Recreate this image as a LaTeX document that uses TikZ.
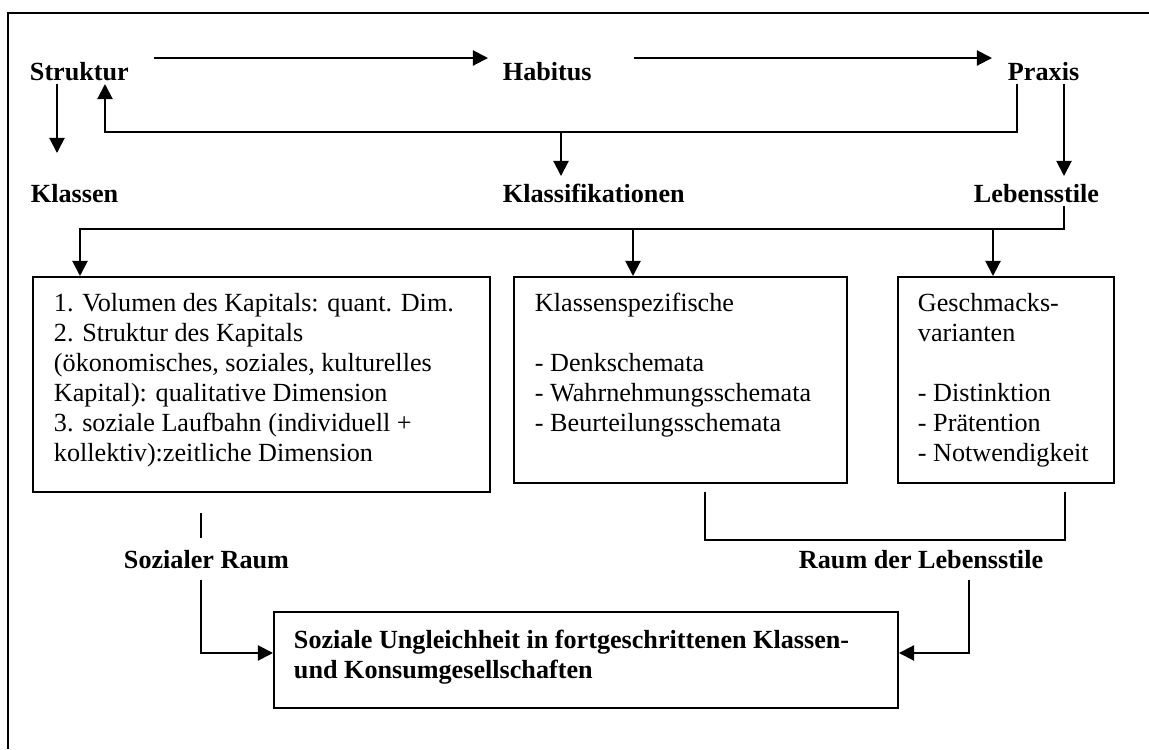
\documentclass[tikz,border=0pt]{standalone}
\usepackage{fontspec}
\setmainfont{Liberation Serif}
\usetikzlibrary{arrows.meta}

\begin{document}
\begin{tikzpicture}[x=0.4587pt, y=-0.4587pt, line width=0.9pt,
    lbl/.style={font=\bfseries\fontsize{12}{13.76}\selectfont, inner sep=0pt,
      anchor=base west, text height=8.26pt, text depth=2.3pt},
    box/.style 2 args={draw, anchor=north west, inner sep=0pt,
      minimum width=#1*0.4587pt, minimum height=#2*0.4587pt},
    boxtext/.style={anchor=north west, inner sep=0pt, align=left,
      font=\fontsize{12}{13.76}\selectfont},
    arr/.style={-{Triangle[length=6.9pt,width=6.9pt]}}]

  \useasboundingbox (0,0) rectangle (1149,749);
  \draw (1149,12.7) -| (8.3,749);

  \node[lbl] (struktur) at (29,80) {Struktur};
  \node[lbl] (habitus) at (502,80) {Habitus};
  \node[lbl] (praxis) at (1007,80) {Praxis};
  \node[lbl] (klassen) at (30,202) {Klassen};
  \node[lbl] (klassif) at (502,202) {Klassifikationen};
  \node[lbl] (lebensstile) at (973,202) {Lebensstile};

  \node[box={457}{215}] (kapital) at (32,276) {};
  \node[box={333}{206}] (schemata) at (513,276) {};
  \node[box={216}{206}] (geschmack) at (897,276) {};
  \node[boxtext] (kapitaltext) at ([shift={(21,16)}]kapital.north west)
    {1. Volumen des Kapitals: quant. Dim.\\2. Struktur des Kapitals\\
     (ökonomisches, soziales, kulturelles\\Kapital): qualitative Dimension\\
     3. soziale Laufbahn (individuell +\\kollektiv):zeitliche Dimension};
  \node[boxtext] (schematatext) at ([shift={(21,16)}]schemata.north west)
    {Klassenspezifische\\[13.76pt]- Denkschemata\\- Wahrnehmungsschemata\\
     - Beurteilungsschemata};
  \node[boxtext] (geschmacktext) at ([shift={(20,16)}]geschmack.north west)
    {Geschmacks-\\varianten\\[13.76pt]- Distinktion\\- Prätention\\- Notwendigkeit};

  \node[lbl] (sozraum) at (123,568) {Sozialer Raum};
  \node[lbl] (raumleb) at (798,568) {Raum der Lebensstile};
  \node[box={624}{96}] (ungleich) at (273,611) {};
  \node[boxtext, font=\bfseries\fontsize{12}{13.76}\selectfont] (ungleichtext)
    at ([shift={(20,18)}]ungleich.north west)
    {Soziale Ungleichheit in fortgeschrittenen Klassen-\\und Konsumgesellschaften};

  \draw[arr] ([shift={(24,-3)}]struktur.north east) -- ([shift={(-14,-3)}]habitus.north west);
  \draw[arr] ([shift={(41,-3)}]habitus.north east) -- ([shift={(-15,-3)}]praxis.north west);
  \draw[arr] ([shift={(10,-2)}]praxis.south west) -- ++(0,48) coordinate (ret)
    -| ([shift={(76,-2)}]struktur.south west);
  \coordinate (klassiftop) at ([shift={(59,-7)}]klassif.north west);
  \draw[arr] (klassiftop |- ret) -- (klassiftop);
  \draw[arr] ([shift={(28,-2)}]struktur.south west) -- ([shift={(27,-30)}]klassen.north west);
  \draw[arr] ([shift={(57,-2)}]praxis.south west) -- ([shift={(91,-7)}]lebensstile.north west);

  \draw[arr] ([shift={(91,-2)}]lebensstile.south west) -- ++(0,23) coordinate (dist)
    -| ([shift={(48,0)}]kapital.north west);
  \coordinate (schematatop) at ([shift={(120,0)}]schemata.north west);
  \coordinate (geschmacktop) at ([shift={(96,0)}]geschmack.north west);
  \draw[arr] (schematatop |- dist) -- (schematatop);
  \draw[arr] (geschmacktop |- dist) -- (geschmacktop);

  \draw ([shift={(192,8)}]schemata.south west) -- ++(0,48)
    -| ([shift={(168,8)}]geschmack.south west);
  \draw ([shift={(78,-11)}]sozraum.north west) -- ++(0,-25);
  \draw[arr] ([shift={(78,6)}]sozraum.south west) |- ([shift={(0,-7)}]ungleich.west);
  \draw[arr] ([shift={(171,6)}]raumleb.south west) |- ([shift={(0,-7)}]ungleich.east);
\end{tikzpicture}
\end{document}
